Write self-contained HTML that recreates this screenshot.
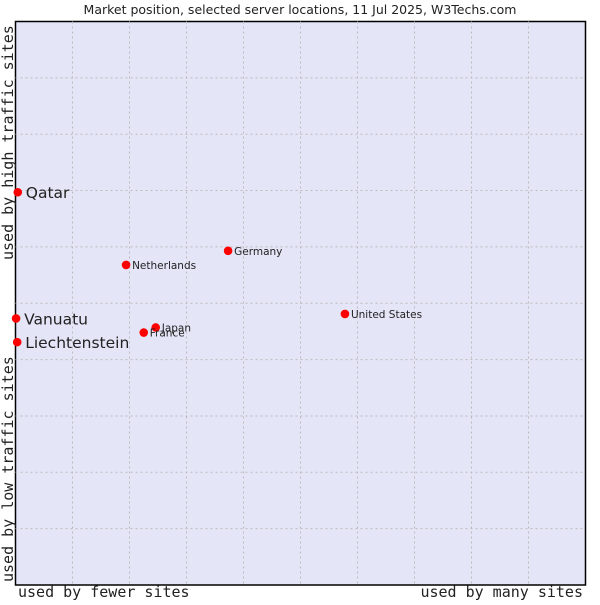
<!DOCTYPE html>
<html><head><meta charset="utf-8"><style>
body{margin:0;background:#fff;}
svg text{font-family:"DejaVu Sans","Liberation Sans",sans-serif;fill:#222;}
.mono{font-family:"DejaVu Sans Mono","Liberation Mono",monospace !important;}
</style></head><body>
<svg id="chart" width="600" height="600" xmlns="http://www.w3.org/2000/svg">
<text x="300" y="14" font-size="12.5" text-anchor="middle">Market position, selected server locations, 11 Jul 2025, W3Techs.com</text>
<rect x="15.5" y="21.5" width="570" height="563.5" fill="#e4e5f7" stroke="#000" stroke-width="1.5"/>
<g id="grid"></g>
<g id="points"></g>
<text class="mono" x="18" y="597" font-size="15">used by fewer sites</text>
<text class="mono" x="583" y="597" font-size="15" text-anchor="end">used by many sites</text>
<text class="mono" transform="translate(13,582) rotate(-90)" font-size="15">used by low traffic sites</text>
<text class="mono" transform="translate(13,260) rotate(-90)" font-size="15">used by high traffic sites</text>
</svg>
<script>
const names=["Qatar","Vanuatu","Liechtenstein","Netherlands","Germany","Japan","France","United States"];
const xValues=[0.4,0.1,0.3,19.4,37.3,24.6,22.5,57.8];
const yValues=[69.7,47.3,43.1,56.8,59.3,45.7,44.8,48.1];
const bigLabel=[true,true,true,false,false,false,false,false];
const gridTicks=[10,20,30,40,50,60,70,80,90];
const X0=15.5,X1=585.5,Y0=585,Y1=21.5;
const sx=v=>X0+(X1-X0)*v/100, sy=v=>Y0-(Y0-Y1)*v/100;
const NS="http://www.w3.org/2000/svg";
const grid=document.getElementById('grid'), pts=document.getElementById('points');
gridTicks.forEach(t=>{
  let l=document.createElementNS(NS,'line');
  
  
  l.setAttribute('x1',sx(t));l.setAttribute('x2',sx(t));l.setAttribute('y1',Y1);l.setAttribute('y2',Y0);
  l.setAttribute('stroke','#bcbcbc');l.setAttribute('stroke-dasharray','2,3');grid.appendChild(l);
  let h=document.createElementNS(NS,'line');
  
  
  h.setAttribute('x1',X0);h.setAttribute('x2',X1);h.setAttribute('y1',sy(t));h.setAttribute('y2',sy(t));
  h.setAttribute('stroke','#bcbcbc');h.setAttribute('stroke-dasharray','2,3');grid.appendChild(h);
});
names.forEach((n,i)=>{
  const x=sx(xValues[i]),y=sy(yValues[i]);
  let c=document.createElementNS(NS,'circle');
  
  
  c.setAttribute('cx',x);c.setAttribute('cy',y);c.setAttribute('r',4.3);c.setAttribute('fill','#f00');pts.appendChild(c);
  let t=document.createElementNS(NS,'text');
  
  
  t.setAttribute('x',x+(bigLabel[i]?8:6));t.setAttribute('y',y+(bigLabel[i]?6:4));
  t.setAttribute('font-size',bigLabel[i]?15.5:10.5);t.textContent=n;pts.appendChild(t);
});
</script>
</body></html>
